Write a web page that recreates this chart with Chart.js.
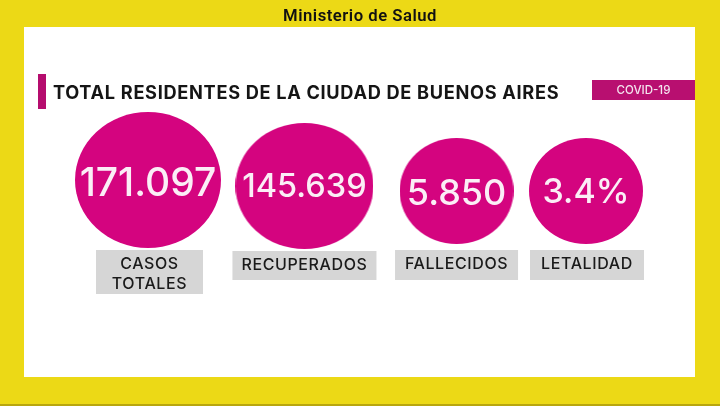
<!DOCTYPE html>
<html>
<head>
<meta charset="utf-8">
<style>
  html, body { margin: 0; padding: 0; width: 720px; height: 406px; overflow: hidden; background: #ecd916; }
  #lamina { position: absolute; left: 0; top: 0; width: 720px; height: 406px; filter: blur(0.35px); }
  #panel { position: absolute; left: 24px; top: 27px; width: 671px; height: 350px; background: #fff; }
  #chart { position: absolute; left: 0; top: 0; }
  #ministerio { position: absolute; left: 0; top: 6px; width: 720px; text-align: center; font: 600 16.7px Roboto, sans-serif; letter-spacing: 0.5px; color: #111; }
  #marca { position: absolute; left: 38px; top: 74px; width: 8px; height: 35px; background: #b50d6e; }
  #titulo { position: absolute; left: 53px; top: 81px; font: 700 18.2px Inter, sans-serif; letter-spacing: 0.68px; color: #151515; white-space: nowrap; }
  #covid { position: absolute; left: 592px; top: 80px; width: 103px; height: 20px; line-height: 20px; text-align: center; background: #b80f70; color: #f4e3ee; font: 500 11.5px/20px Inter, sans-serif; }
  #linea { position: absolute; left: 0; top: 404px; width: 720px; height: 2px; background: #b8a60e; }
</style>
</head>
<body>
<div id="lamina">
<div id="panel"></div>
<div id="ministerio">Ministerio de Salud</div>
<div id="marca"></div>
<div id="titulo">TOTAL RESIDENTES DE LA CIUDAD DE BUENOS AIRES</div>
<div id="covid">COVID-19</div>
<div id="linea"></div>
<canvas id="chart" width="720" height="406"></canvas>
</div>
<script src="https://cdn.jsdelivr.net/npm/chart.js@4"></script>
<script>
  // Datos
  const categorias = [['CASOS', 'TOTALES'], ['RECUPERADOS'], ['FALLECIDOS'], ['LETALIDAD']];
  const valores = [171097, 145639, 5850, 3.4];
  const etiquetas = ['171.097', '145.639', '5.850', '3.4%'];

  // Colocacion de los circulos, en unidades de los ejes
  const columnas = [0, 1.043, 2.057, 2.92];
  const alturas = [6, 0, -5, -5];

  // Tamanos y estilo
  const radiosX = [73, 69, 57, 57];
  const radiosY = [68, 63, 53, 53];
  const fuentes = [39, 32.5, 36, 34];
  const bajadas = [4, 1, 3, 2];
  const cajas = [
    { ancho: 107, alto: 44, arriba: 250, corrimiento: 1.5 },
    { ancho: 144, alto: 29, arriba: 251, corrimiento: 0 },
    { ancho: 123, alto: 30, arriba: 250, corrimiento: 0 },
    { ancho: 114, alto: 30, arriba: 250, corrimiento: 1 },
  ];
  const magenta = '#d4047f';

  // Chart.js solo dibuja puntos redondos, asi que el circulo achatado va en un canvas
  function crearElipse(rx, ry) {
    const c = document.createElement('canvas');
    c.width = rx * 2;
    c.height = ry * 2;
    const g = c.getContext('2d');
    g.fillStyle = magenta;
    g.beginPath();
    g.ellipse(rx, ry, rx, ry, 0, 0, Math.PI * 2);
    g.fill();
    return c;
  }

  const textos = {
    id: 'textos',
    afterDatasetsDraw(chart) {
      const ctx = chart.ctx;
      const puntos = chart.getDatasetMeta(0).data;
      ctx.save();
      ctx.textAlign = 'center';
      ctx.textBaseline = 'middle';
      puntos.forEach((p, i) => {
        // valor dentro del circulo
        ctx.fillStyle = '#fbeef6';
        ctx.font = `500 ${fuentes[i]}px Inter, sans-serif`;
        ctx.fillText(etiquetas[i], p.x, p.y + bajadas[i]);

        // caja gris con la categoria
        const caja = cajas[i];
        const centro = p.x + caja.corrimiento;
        ctx.fillStyle = '#d6d6d6';
        ctx.fillRect(centro - caja.ancho / 2, caja.arriba, caja.ancho, caja.alto);
        ctx.fillStyle = '#1a1a1a';
        ctx.font = '500 16px Inter, sans-serif';
        ctx.letterSpacing = '0.6px';
        categorias[i].forEach((linea, n) => {
          ctx.fillText(linea, centro, caja.arriba + 14.5 + n * 20);
        });
        ctx.letterSpacing = '0px';
      });
      ctx.restore();
    },
  };

  new Chart(document.getElementById('chart'), {
    type: 'scatter',
    data: {
      datasets: [
        {
          label: 'Total residentes',
          data: valores.map((v, i) => ({ x: columnas[i], y: alturas[i], valor: v })),
          pointStyle: radiosX.map((rx, i) => crearElipse(rx, radiosY[i])),
          pointRadius: radiosX,
          clip: false,
        },
      ],
    },
    options: {
      responsive: false,
      animation: false,
      layout: { padding: 0, autoPadding: false },
      plugins: { legend: { display: false }, tooltip: { enabled: false } },
      scales: {
        x: { display: false, min: -148 / 150, max: 572 / 150 },
        y: { display: false, min: -220, max: 186 },
      },
    },
    plugins: [textos],
  });
</script>
</body>
</html>
